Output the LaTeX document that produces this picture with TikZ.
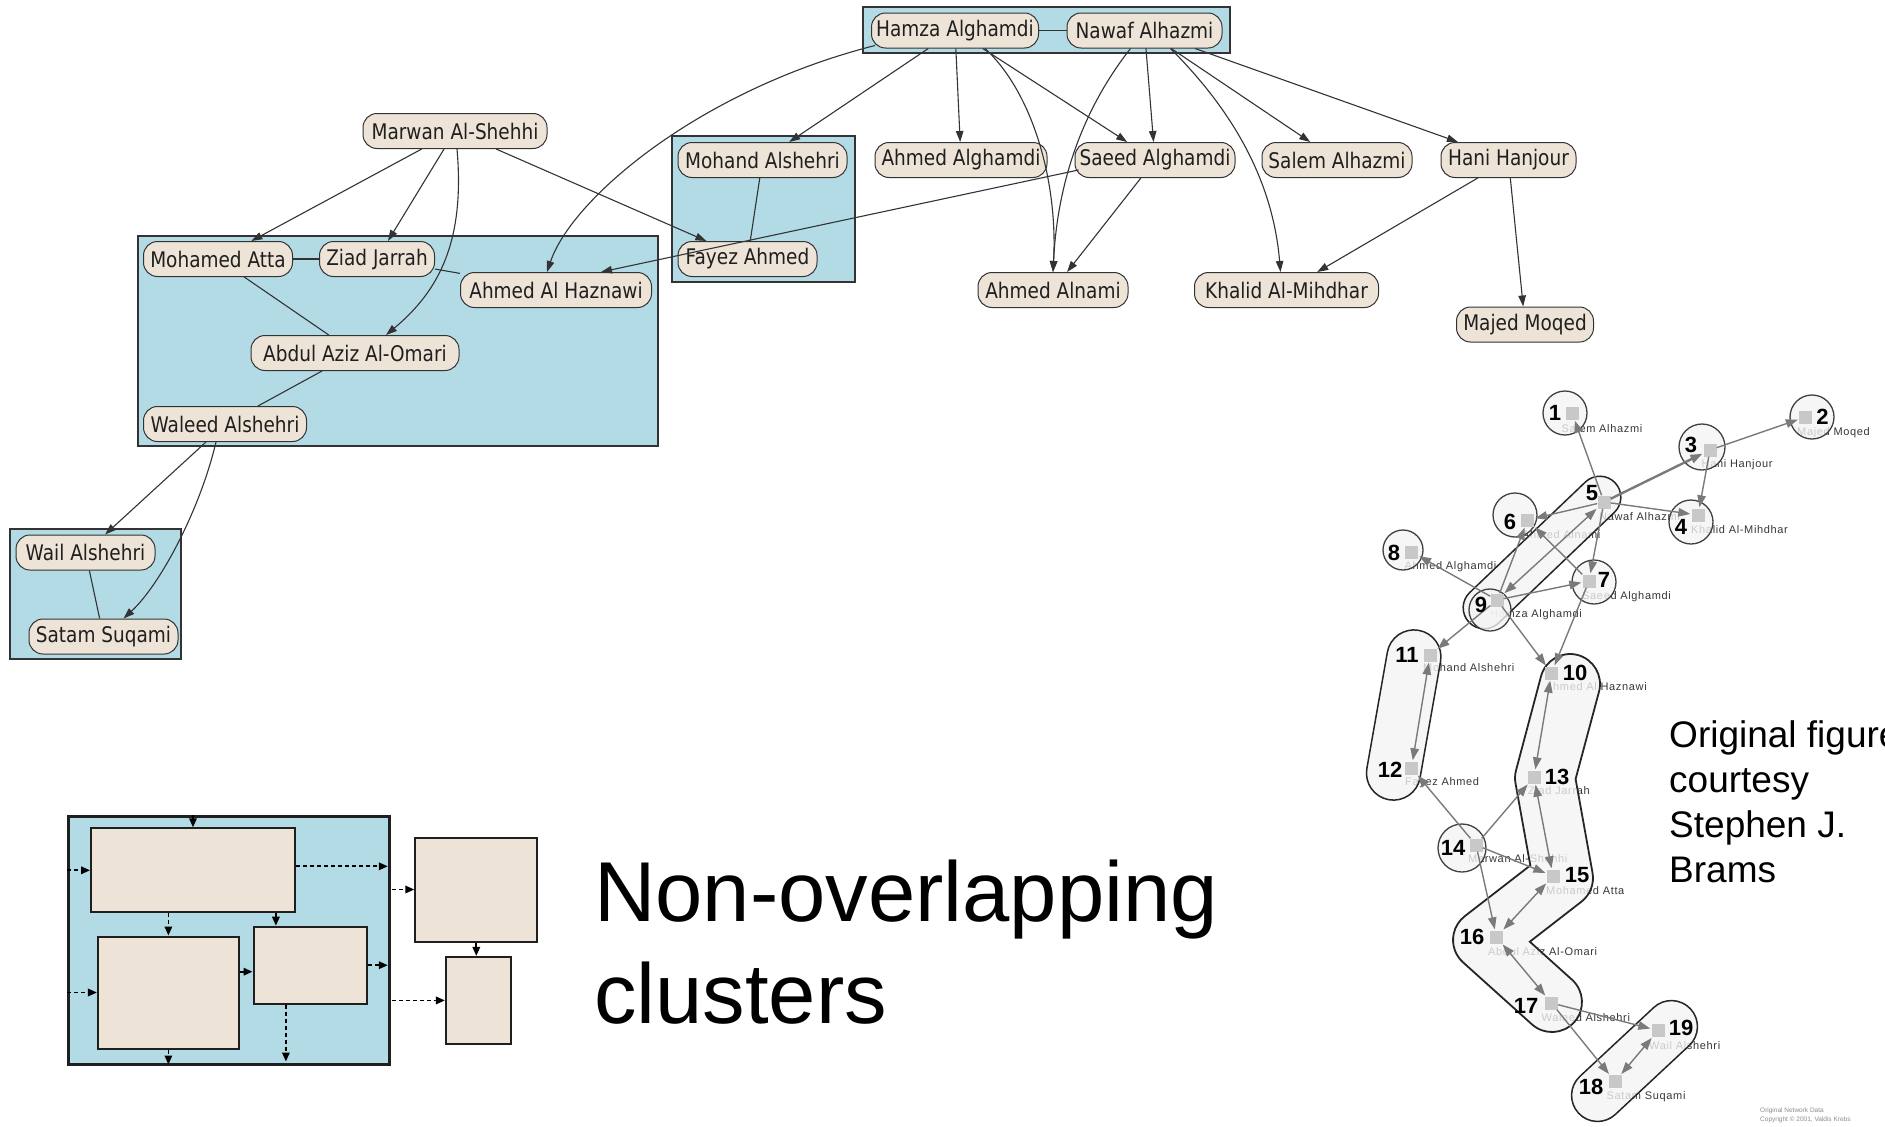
\documentclass[tikz,border=0pt]{standalone}
\usepackage{fontspec}
\setmainfont{Liberation Sans}
\newfontfamily\gvfont[FakeStretch=0.86]{DejaVu Sans}
\newfontfamily\krebsfont{Liberation Sans}
\newfontfamily\krebslabel[LetterSpace=6]{Liberation Sans}
\usetikzlibrary{arrows.meta,calc,shapes.misc}

\definecolor{nodefill}{RGB}{237,227,215}
\definecolor{clusterfill}{RGB}{179,219,230}
\definecolor{gvline}{RGB}{51,51,51}
\definecolor{hullfill}{RGB}{244,244,244}
\definecolor{kedgecol}{RGB}{122,122,122}
\definecolor{sqfill}{RGB}{200,200,200}
\definecolor{labelcol}{RGB}{55,55,55}

\tikzset{
  gvnode/.style={rectangle, rounded corners=14pt, draw=gvline, line width=1pt, fill=nodefill,
    minimum height=35pt, inner xsep=4pt, inner ysep=0pt, text=black!88,
    font=\gvfont\fontsize{21.5}{25}\selectfont},
  cluster/.style={draw=gvline, line width=2.4pt, fill=clusterfill},
  gedge/.style={draw=gvline, line width=1.1pt, -{Triangle[length=11pt,width=7.5pt]}},
  gline/.style={draw=gvline, line width=1.1pt},
  boxnode/.style={rectangle, draw=black!88, line width=2pt, fill=nodefill, inner sep=0pt},
  darr/.style={draw=black, line width=1.8pt, dash pattern=on 4pt off 3pt,
    -{Triangle[length=9pt,width=7.5pt]}},
  ksq/.style={rectangle, fill=sqfill, minimum size=13pt, inner sep=0pt},
  knum/.style={font=\krebsfont\bfseries\fontsize{22}{22}\selectfont, inner sep=0pt, text=black},
  klab/.style={font=\krebslabel\fontsize{11}{12}\selectfont, text=labelcol, anchor=west, inner sep=0pt},
  khull/.style={draw=black!85, line width=1.5pt, fill=hullfill, fill opacity=0.78},
  kcirc/.style={draw=black!75, line width=1.3pt, fill=hullfill, fill opacity=0.78},
  kedge/.style={draw=kedgecol, line width=1.4pt, shorten >=1pt,
    -{Triangle[length=12pt,width=8.5pt]}},
  kboth/.style={draw=kedgecol, line width=1.4pt, shorten >=1pt, shorten <=1pt,
    {Triangle[length=12pt,width=8.5pt]}-{Triangle[length=12pt,width=8.5pt]}},
  bigtext/.style={anchor=base west, inner sep=0pt, font=\fontsize{85}{102}\selectfont},
  credit/.style={anchor=base west, inner sep=0pt, font=\fontsize{37}{45}\selectfont},
  tiny/.style={anchor=west, inner sep=0pt, text=black!45, font=\krebsfont\fontsize{6.5}{7}\selectfont}
}

\begin{document}
\begin{tikzpicture}[x=1pt,y=-1pt]
\fill[white] (0,0) rectangle (1885,1127);
\path[use as bounding box] (0,0) rectangle (1885,1127);

% ---------- clustered graph ----------
\draw[cluster] (863,7) rectangle (1230,53);
\draw[cluster] (672,136) rectangle (855,282);
\draw[cluster] (138,236) rectangle (658,446);
\draw[cluster] (10,529) rectangle (181,659);

\node[gvnode, minimum width=167pt] (hamza) at (955,30.5) {Hamza Alghamdi};
\node[gvnode, minimum width=155pt] (nawaf) at (1144.5,30.5) {Nawaf Alhazmi};
\node[gvnode, minimum width=184pt] (marwan) at (455,131) {Marwan Al-Shehhi};
\node[gvnode, minimum width=169pt] (mohand) at (762.5,160) {Mohand Alshehri};
\node[gvnode, minimum width=172pt] (ahmedg) at (961,160) {Ahmed Alghamdi};
\node[gvnode, minimum width=160pt] (saeed) at (1155,160) {Saeed Alghamdi};
\node[gvnode, minimum width=150pt] (salem) at (1337,160) {Salem Alhazmi};
\node[gvnode, minimum width=135pt] (hani) at (1508.5,160) {Hani Hanjour};
\node[gvnode, minimum width=139pt] (fayez) at (747.5,259) {Fayez Ahmed};
\node[gvnode, minimum width=149pt] (atta) at (218,259) {Mohamed Atta};
\node[gvnode, minimum width=115pt] (ziad) at (377,259) {Ziad Jarrah};
\node[gvnode, minimum width=191pt] (haznawi) at (556,290) {Ahmed Al Haznawi};
\node[gvnode, minimum width=150pt] (alnami) at (1053,290) {Ahmed Alnami};
\node[gvnode, minimum width=184pt] (khalid) at (1286.5,290) {Khalid Al-Mihdhar};
\node[gvnode, minimum width=137pt] (majed) at (1525,324.5) {Majed Moqed};
\node[gvnode, minimum width=208pt] (abdul) at (355,353) {Abdul Aziz Al-Omari};
\node[gvnode, minimum width=163pt] (waleed) at (225,424) {Waleed Alshehri};
\node[gvnode, minimum width=139pt] (wail) at (85.5,552.5) {Wail Alshehri};
\node[gvnode, minimum width=149pt] (satam) at (103.5,636.5) {Satam Suqami};

\draw[gline] (hamza) -- (nawaf);
\draw[gedge] ($(hamza.south west)+(4,-3)$) .. controls (700,90) and (572,198) .. ($(haznawi.north)+(-9,0)$);
\draw[gedge] (hamza) -- (mohand);
\draw[gedge] (hamza) -- (ahmedg);
\draw[gedge] (hamza) -- (saeed);
\draw[gedge] ($(hamza.south)+(30,0)$) .. controls (1032,92) and (1058,180) .. (alnami.north);
\draw[gedge] ($(nawaf.south)+(-14,0)$) .. controls (1090,100) and (1058,170) .. (alnami.north);
\draw[gedge] (nawaf) -- (saeed);
\draw[gedge] (nawaf) -- (salem);
\draw[gedge] (nawaf) -- (hani);
\draw[gedge] ($(nawaf.south)+(26,0)$) .. controls (1222,100) and (1272,170) .. ($(khalid.north)+(-6,0)$);
\draw[gedge] (hani) -- (khalid);
\draw[gedge] (hani) -- (majed);
\draw[gedge] (saeed) -- (alnami);
\draw[gedge] ($(saeed.west)+(4,10)$) -- ($(haznawi.north)+(45,0)$);
\draw[gedge] (marwan) -- (atta);
\draw[gedge] (marwan) -- (ziad);
\draw[gedge] ($(marwan.south)+(2,0)$) .. controls (465,240) and (440,290) .. ($(abdul.north)+(31,0)$);
\draw[gedge] (marwan) -- (fayez);
\draw[gline] (atta) -- (ziad);
\draw[gline] (ziad) -- (haznawi);
\draw[gline] (atta) -- (abdul);
\draw[gline] (abdul) -- (waleed);
\draw[gline] (mohand) -- (fayez);
\draw[gedge] ($(waleed.south)+(-19,0)$) -- (wail);
\draw[gedge] ($(waleed.south)+(-9,0)$) .. controls (200,510) and (160,585) .. ($(satam.north)+(20,0)$);
\draw[gline] (wail) -- (satam);

% ---------- schematic of nested boxes ----------
\node[boxnode, fill=clusterfill, line width=3pt, minimum width=321pt, minimum height=248pt] (outerbox) at (228.8,940) {};
\node[boxnode, minimum width=204pt, minimum height=84pt] (bA) at (193,870.3) {};
\node[boxnode, minimum width=141pt, minimum height=112pt] (bB) at (168.4,992.5) {};
\node[boxnode, minimum width=113pt, minimum height=77pt] (bC) at (310,965.2) {};
\node[boxnode, minimum width=122pt, minimum height=104pt] (bD) at (476.3,889.5) {};
\node[boxnode, minimum width=65pt, minimum height=87pt] (bE) at (478.4,1000.4) {};
\coordinate (c6) at ($(bC.north west)+(23.4,0)$);
\coordinate (c8) at ($(bC.west)+(0,6.5)$);
\coordinate (c13) at ($(bC.south west)+(33.4,0)$);

\draw[darr] (bA.north |- outerbox.north) -- (bA.north);
\draw[darr] (outerbox.west |- bA.west) -- (bA.west);
\draw[darr] ([yshift=4pt]bA.east) -- ([yshift=4pt,xshift=-3pt]outerbox.east |- bA.east);
\draw[darr] ([xshift=1pt]outerbox.east |- bD.west) -- (bD.west);
\draw[darr] (bA.south -| bB.north) -- (bB.north);
\draw[darr] (c6 |- bA.south) -- (c6);
\draw[darr] (outerbox.west |- bB.west) -- (bB.west);
\draw[darr] (c8 -| bB.east) -- (c8);
\draw[darr] (bC.east) -- ([xshift=-3pt]outerbox.east |- bC.east);
\draw[darr] ([xshift=1pt]outerbox.east |- bE.west) -- (bE.west);
\draw[darr] (bD.south) -- (bD.south |- bE.north);
\draw[darr] (bB.south) -- ([yshift=1pt]bB.south |- outerbox.south);
\draw[darr] (c13) -- ($(c13 |- outerbox.south)+(0,-4)$);

\node[bigtext] (nonover) at (594,921) {Non-overlapping};
\node[bigtext] (clusters) at (594,1023) {clusters};

% ---------- overlapping cluster network ----------
\node[klab] (l1) at (1561.5,429) {Salem Alhazmi};
\node[klab] (l2) at (1797,433) {Majed Moqed};
\node[klab] (l3) at (1701.5,465) {Hani Hanjour};
\node[klab] (l4) at (1691,530) {Khalid Al-Mihdhar};
\node[klab] (l5) at (1599,517) {Nawaf Alhazmi};
\node[klab] (l6) at (1522,535) {Ahmed Alnami};
\node[klab] (l7) at (1582,597) {Saeed Alghamdi};
\node[klab] (l8) at (1404.5,567) {Ahmed Alghamdi};
\node[klab] (l9) at (1490,615) {Hamza Alghamdi};
\node[klab] (l10) at (1545,687) {Ahmed Al Haznawi};
\node[klab] (l11) at (1423,668) {Mohand Alshehri};
\node[klab] (l12) at (1405,783) {Fayez Ahmed};
\node[klab] (l13) at (1528,791) {Ziad Jarrah};
\node[klab] (l14) at (1468,859) {Marwan Al-Shehhi};
\node[klab] (l15) at (1546,891) {Mohamed Atta};
\node[klab] (l16) at (1488,952) {Abdul Aziz Al-Omari};
\node[klab] (l17) at (1541.5,1018) {Waleed Alshehri};
\node[klab] (l18) at (1606.5,1097) {Satam Suqami};
\node[klab] (l19) at (1649,1046) {Wail Alshehri};

% cluster hulls
\draw[khull, line width=1.8pt] (1541,676.3) arc[start angle=194.9, end angle=374.9, radius=30]
  -- (1575.6,779) -- (1592.5,872.7)
  arc[start angle=-10.2, end angle=52.2, radius=30]
  -- (1529.8,941.7) -- (1572,979.7)
  arc[start angle=-48.1, end angle=131.9, radius=30]
  -- (1463,962.3)
  arc[start angle=131.9, end angle=232.2, radius=30]
  -- (1530.3,865.4) -- (1515.5,783.3)
  arc[start angle=169.8, end angle=194.9, radius=30]
  -- cycle;
\node[khull, rounded rectangle, rotate=43.7, minimum width=202pt, minimum height=42pt, inner sep=0pt] (h59) at (1542,552.5) {};
\node[khull, rounded rectangle, rotate=80, minimum width=172pt, minimum height=54pt, inner sep=0pt] (h1112) at (1403.7,715) {};
\node[khull, rounded rectangle, rotate=43, minimum width=153pt, minimum height=52pt, inner sep=0pt] (h1819) at (1634.5,1061) {};
\draw[kcirc] (1565,413) circle[radius=22];
\draw[kcirc] (1812,417) circle[radius=22];
\draw[kcirc] (1702,447) circle[radius=23];
\draw[kcirc] (1691,522) circle[radius=22];
\draw[kcirc] (1515,515) circle[radius=22];
\draw[kcirc] (1594,582) circle[radius=22];
\draw[kcirc] (1403,550) circle[radius=20];
\draw[kcirc] (1490,610) circle[radius=21];
\draw[kcirc] (1462,848) circle[radius=24];

% member squares
\node[ksq] (k1) at (1572,413) {};
\node[ksq] (k2) at (1805.5,417) {};
\node[ksq] (k3) at (1710,450) {};
\node[ksq] (k4) at (1698,515) {};
\node[ksq] (k5) at (1604,502) {};
\node[ksq] (k6) at (1527.5,520) {};
\node[ksq] (k7) at (1589,581) {};
\node[ksq] (k8) at (1411.5,552) {};
\node[ksq] (k9) at (1497,600) {};
\node[ksq] (k10) at (1551.5,673) {};
\node[ksq] (k11) at (1430,655) {};
\node[ksq] (k12) at (1411.5,768) {};
\node[ksq] (k13) at (1534,777) {};
\node[ksq] (k14) at (1476,845) {};
\node[ksq] (k15) at (1553,876) {};
\node[ksq] (k16) at (1496.5,937) {};
\node[ksq] (k17) at (1551.5,1003) {};
\node[ksq] (k18) at (1615,1081.5) {};
\node[ksq] (k19) at (1658,1030.5) {};

% ties
\draw[kedge] (k5) -- (k1);
\draw[kedge] (k3) -- (k2);
\draw[kedge, line width=2.4pt] (k5) -- (k3);
\draw[kedge] (k3) -- (k4);
\draw[kedge] (k5) -- (k4);
\draw[kedge] (k5) -- (k6);
\draw[kedge] (k5) -- (k7);
\draw[kedge] (k9) -- (k6);
\draw[kedge] (k7) -- (k6);
\draw[kedge] (k9) -- (k8);
\draw[kedge] (k9) -- (k7);
\draw[kedge] (k9) -- (k11);
\draw[kedge] (k9) -- (k10);
\draw[kedge] (k7) -- (k10);
\draw[kedge] (k14) -- (k12);
\draw[kedge] (k14) -- (k13);
\draw[kedge] (k14) -- (k15);
\draw[kedge] (k14) -- (k16);
\draw[kedge] (k17) -- (k19);
\draw[kedge] (k17) -- (k18);
\draw[kboth] (k9) -- (k5);
\draw[kboth] (k11) -- (k12);
\draw[kboth] (k10) -- (k13);
\draw[kboth] (k13) -- (k15);
\draw[kboth] (k15) -- (k16);
\draw[kboth] (k16) -- (k17);
\draw[kboth] (k18) -- (k19);

% member numbers
\node[knum] (t1) at (1555,413) {1};
\node[knum] (t2) at (1822.5,417) {2};
\node[knum] (t3) at (1691,445) {3};
\node[knum] (t4) at (1681,527) {4};
\node[knum] (t5) at (1592,493) {5};
\node[knum] (t6) at (1510,522) {6};
\node[knum] (t7) at (1604,580) {7};
\node[knum] (t8) at (1394,553) {8};
\node[knum] (t9) at (1481,605) {9};
\node[knum] (t10) at (1575,673) {10};
\node[knum] (t11) at (1407,655) {11};
\node[knum] (t12) at (1390,770) {12};
\node[knum] (t13) at (1557,777) {13};
\node[knum] (t14) at (1453,848) {14};
\node[knum] (t15) at (1577,875) {15};
\node[knum] (t16) at (1472,937) {16};
\node[knum] (t17) at (1526,1006) {17};
\node[knum] (t18) at (1591,1087) {18};
\node[knum] (t19) at (1681,1028) {19};

\node[tiny] (cr1) at (1760,1111) {Original Network Data};
\node[tiny] (cr2) at (1760,1120) {Copyright \textcopyright{} 2001, Valdis Krebs};

\node[credit] (cred1) at (1669,747) {Original figure};
\node[credit] (cred2) at (1669,792) {courtesy};
\node[credit] (cred3) at (1669,837) {Stephen J.};
\node[credit] (cred4) at (1669,882) {Brams};
\end{tikzpicture}
\end{document}
